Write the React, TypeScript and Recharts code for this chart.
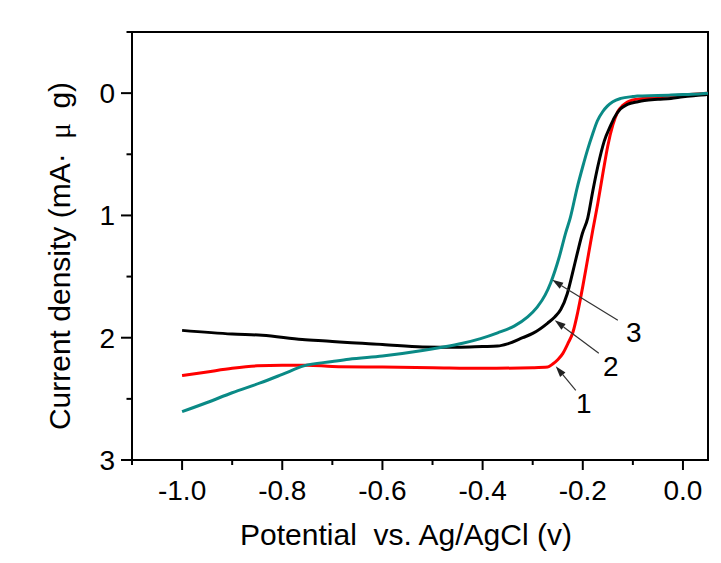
import {
  LineChart,
  Line,
  XAxis,
  YAxis,
  ReferenceArea,
  ReferenceLine,
  ReferenceDot,
} from "recharts";

// curve 1 (red)
const redPotential = [-1.0, -0.95, -0.9, -0.85, -0.8, -0.75, -0.7, -0.6, -0.5, -0.4, -0.3, -0.27, -0.26, -0.25, -0.24, -0.23, -0.22, -0.21, -0.2, -0.19, -0.18, -0.17, -0.16, -0.15, -0.14, -0.13, -0.12, -0.1, -0.06, 0.0, 0.05];
const redCurrent = [2.31, 2.28, 2.25, 2.23, 2.225, 2.225, 2.235, 2.24, 2.245, 2.25, 2.245, 2.24, 2.215, 2.18, 2.13, 2.05, 1.96, 1.79, 1.58, 1.35, 1.12, 0.9, 0.66, 0.43, 0.26, 0.15, 0.1, 0.055, 0.035, 0.015, 0.0];

// curve 2 (black)
const blackPotential = [-1.0, -0.9, -0.84, -0.76, -0.7, -0.67, -0.6, -0.52, -0.45, -0.4, -0.37, -0.35, -0.32, -0.3, -0.27, -0.256, -0.244, -0.231, -0.221, -0.211, -0.201, -0.19, -0.18, -0.17, -0.157, -0.145, -0.137, -0.125, -0.111, -0.09, -0.077, -0.05, -0.024, 0.0, 0.036, 0.05];
const blackCurrent = [1.94, 1.97, 1.98, 2.015, 2.03, 2.04, 2.055, 2.075, 2.078, 2.072, 2.068, 2.05, 2.0, 1.965, 1.88, 1.83, 1.77, 1.64, 1.48, 1.31, 1.15, 1.02, 0.8, 0.6, 0.39, 0.27, 0.2, 0.13, 0.092, 0.07, 0.06, 0.05, 0.043, 0.03, 0.016, 0.01];

// curve 3 (teal)
const tealPotential = [-1.0, -0.95, -0.9, -0.844, -0.8, -0.757, -0.7, -0.667, -0.6, -0.52, -0.484, -0.44, -0.404, -0.37, -0.337, -0.31, -0.291, -0.275, -0.264, -0.247, -0.234, -0.225, -0.211, -0.2, -0.191, -0.18, -0.171, -0.16, -0.151, -0.14, -0.124, -0.1, -0.091, -0.05, -0.024, 0.0, 0.036, 0.05];
const tealCurrent = [2.605, 2.53, 2.45, 2.37, 2.3, 2.23, 2.195, 2.176, 2.15, 2.105, 2.08, 2.045, 2.007, 1.96, 1.905, 1.83, 1.75, 1.65, 1.55, 1.34, 1.14, 1.02, 0.77, 0.6, 0.47, 0.33, 0.228, 0.15, 0.106, 0.07, 0.043, 0.028, 0.024, 0.02, 0.016, 0.012, 0.005, 0.0];

const majorX = [-1.0, -0.8, -0.6, -0.4, -0.2, 0.0];
const minorX = [-1.1, -0.9, -0.7, -0.5, -0.3, -0.1];
const majorY = [0, 1, 2, 3];
const minorY = [-0.5, 0.5, 1.5, 2.5];

// arrow annotations: label, tail (near label), head (on curve)
const arrowLabels = ["1", "2", "3"];
const arrowTails = [
  { x: -0.214, y: 2.43 },
  { x: -0.168, y: 2.127 },
  { x: -0.13, y: 1.858 },
];
const arrowHeads = [
  { x: -0.254, y: 2.233 },
  { x: -0.256, y: 1.858 },
  { x: -0.261, y: 1.527 },
];
const labelPoints = [
  { x: -0.198, y: 2.535 },
  { x: -0.144, y: 2.233 },
  { x: -0.098, y: 1.956 },
];

const zip = (vs: number[], js: number[]) => vs.map((v, i) => ({ v, j: js[i] }));
const redData = zip(redPotential, redCurrent);
const blackData = zip(blackPotential, blackCurrent);
const tealData = zip(tealPotential, tealCurrent);

const FONT = '"Liberation Sans", Arial, sans-serif';
const X_TICK = 10;
const X_GAP = 10;
const Y_TICK = 11;
const Y_GAP = 6;

const isMajor = (list: number[], v: number) => list.some((m) => Math.abs(m - v) < 1e-6);

function XTick(props: any) {
  const { x, y, payload } = props;
  const v = payload.value;
  const major = isMajor(majorX, v);
  const top = y - X_TICK - X_GAP;
  return (
    <g>
      <line x1={x} x2={x} y1={top} y2={top + (major ? X_TICK : X_TICK / 2)} stroke="#000" strokeWidth={2} />
      {major && (
        <text x={x} y={y} dy="0.71em" textAnchor="middle" fontSize={28} fill="#000" fontFamily={FONT}>
          {v.toFixed(1)}
        </text>
      )}
    </g>
  );
}

function YTick(props: any) {
  const { x, y, payload } = props;
  const v = payload.value;
  const major = isMajor(majorY, v);
  const axisX = x + Y_TICK + Y_GAP;
  return (
    <g>
      <line x1={axisX - (major ? Y_TICK : Y_TICK / 2)} x2={axisX} y1={y} y2={y} stroke="#000" strokeWidth={2} />
      {major && (
        <text x={x} y={y} dy="0.355em" textAnchor="end" fontSize={28} fill="#000" fontFamily={FONT}>
          {String(v)}
        </text>
      )}
    </g>
  );
}

const arrowShape = (props: any) => {
  const { x1, y1, x2, y2 } = props;
  const ang = Math.atan2(y2 - y1, x2 - x1);
  const len = 11;
  const half = 3.5;
  const bx = x2 - len * Math.cos(ang);
  const by = y2 - len * Math.sin(ang);
  const px = -Math.sin(ang) * half;
  const py = Math.cos(ang) * half;
  return (
    <g>
      <line x1={x1} y1={y1} x2={bx} y2={by} stroke="#333" strokeWidth={1.2} />
      <polygon points={`${x2},${y2} ${bx + px},${by + py} ${bx - px},${by - py}`} fill="#222" />
    </g>
  );
};

const xTitle = (props: any) => {
  const { viewBox } = props;
  return (
    <text
      x={viewBox.x + viewBox.width / 2 - 14}
      y={viewBox.y + 85}
      textAnchor="middle"
      fontSize={30}
      fill="#000"
      fontFamily={FONT}
    >
      {"Potential\u00a0 vs. Ag/AgCl (v)"}
    </text>
  );
};

const yTitle = (props: any) => {
  const { viewBox } = props;
  const tx = viewBox.x + 70;
  const ty = viewBox.y + viewBox.height / 2 + 10;
  return (
    <text
      x={tx}
      y={ty}
      transform={`rotate(-90, ${tx}, ${ty})`}
      textAnchor="middle"
      fontSize={30}
      fill="#000"
      fontFamily={FONT}
    >
      {"Current density (mA\u00b7\u00a0\u2009"}
      <tspan fontFamily='"Liberation Serif", serif'>{"\u03bc"}</tspan>
      {"\u00a0\u2009g)"}
    </text>
  );
};

export default function App() {
  return (
    <div style={{ position: "absolute", left: 0, top: 0, width: 721, height: 563, background: "#fff" }}>
      <LineChart width={721} height={563} margin={{ top: 32, right: 13, bottom: 0, left: 0 }}>
        <XAxis
          type="number"
          dataKey="v"
          domain={[-1.1, 0.05]}
          allowDataOverflow
          ticks={[...minorX, ...majorX]}
          interval={0}
          tick={<XTick />}
          tickLine={false}
          tickSize={X_TICK}
          tickMargin={X_GAP}
          axisLine={{ stroke: "#000", strokeWidth: 2 }}
          height={103}
          label={xTitle}
        />
        <YAxis
          type="number"
          dataKey="j"
          domain={[-0.5, 3]}
          reversed
          allowDataOverflow
          ticks={[...minorY, ...majorY]}
          interval={0}
          tick={<YTick />}
          tickLine={false}
          tickSize={Y_TICK}
          tickMargin={Y_GAP}
          axisLine={{ stroke: "#000", strokeWidth: 2 }}
          width={132}
          label={yTitle}
        />
        <ReferenceArea x1={-1.1} x2={0.05} y1={-0.5} y2={3} fill="none" stroke="#000" strokeWidth={2} />
        <Line data={redData} dataKey="j" type="monotone" stroke="#ff0000" strokeWidth={3} dot={false} isAnimationActive={false} />
        <Line data={blackData} dataKey="j" type="monotone" stroke="#000000" strokeWidth={3} dot={false} isAnimationActive={false} />
        <Line data={tealData} dataKey="j" type="monotone" stroke="#0a8a86" strokeWidth={3} dot={false} isAnimationActive={false} />
        {arrowLabels.map((lab, i) => (
          <ReferenceLine
            key={`arrow-${lab}`}
            segment={[arrowTails[i], arrowHeads[i]]}
            shape={arrowShape}
          />
        ))}
        {arrowLabels.map((lab, i) => (
          <ReferenceDot
            key={`label-${lab}`}
            x={labelPoints[i].x}
            y={labelPoints[i].y}
            r={0}
            fill="none"
            stroke="none"
            label={{ value: lab, position: "center", fontSize: 28, fill: "#000", fontFamily: FONT }}
          />
        ))}
      </LineChart>
    </div>
  );
}
